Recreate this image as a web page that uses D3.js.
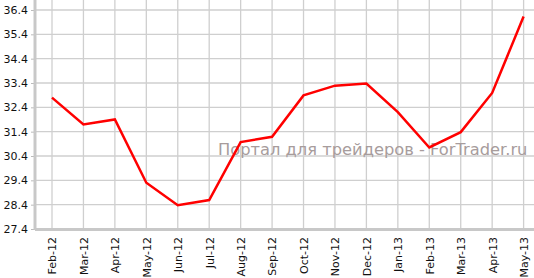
<!DOCTYPE html>
<html>
<head>
<meta charset="utf-8">
<script src="https://cdn.jsdelivr.net/npm/d3@7"></script>
<style>
  body { margin: 0; background: #fff; }
  svg { display: block; }
  text { font-family: "DejaVu Sans", Verdana, sans-serif; }
</style>
</head>
<body>
<div id="chart"></div>
<script>
var months = ["Feb-12","Mar-12","Apr-12","May-12","Jun-12","Jul-12","Aug-12","Sep-12",
              "Oct-12","Nov-12","Dec-12","Jan-13","Feb-13","Mar-13","Apr-13","May-13"];
var values = [32.8, 31.7, 31.9, 29.3, 28.38, 28.59, 30.97, 31.19,
              32.89, 33.29, 33.38, 32.2, 30.75, 31.38, 32.99, 36.13];
var yTicks = [27.4, 28.4, 29.4, 30.4, 31.4, 32.4, 33.4, 34.4, 35.4, 36.4];
var watermark = "Портал для трейдеров - ForTrader.ru";

var width = 534, height = 278;
var left = 35, bottom = 229;

var svg = d3.select("#chart").append("svg")
    .attr("width", width)
    .attr("height", height);

var x = d3.scalePoint().domain(months).range([52, 523.6]);
var y = d3.scaleLinear().domain([27.4, 36.4]).range([bottom, 10]);

// grid
svg.append("g").selectAll("line")
    .data(months)
    .enter().append("line")
    .attr("x1", function(d) { return x(d); })
    .attr("x2", function(d) { return x(d); })
    .attr("y1", 0)
    .attr("y2", bottom)
    .attr("stroke", "#cfcfcf")
    .attr("stroke-width", 1.3);

svg.append("g").selectAll("line")
    .data(yTicks)
    .enter().append("line")
    .attr("x1", left)
    .attr("x2", width)
    .attr("y1", function(d) { return y(d); })
    .attr("y2", function(d) { return y(d); })
    .attr("stroke", "#cfcfcf")
    .attr("stroke-width", 1.3);

// y axis
var yAxis = svg.append("g")
    .attr("transform", "translate(" + left + ",0)")
    .call(d3.axisLeft(y).tickValues(yTicks).tickFormat(d3.format(".1f")).tickSize(4).tickPadding(3));
yAxis.select(".domain").remove();
yAxis.selectAll(".tick line").attr("stroke", "#bbb");
yAxis.selectAll("text").attr("fill", "#111").style("font-size", "11px");

// x axis
var xAxis = svg.append("g")
    .attr("transform", "translate(0," + bottom + ")")
    .call(d3.axisBottom(x).tickSize(0));
xAxis.select(".domain").remove();
xAxis.selectAll("text")
    .attr("fill", "#111")
    .style("font-size", "11px")
    .attr("text-anchor", "end")
    .attr("transform", "rotate(-90)")
    .attr("x", -8)
    .attr("y", 0)
    .attr("dy", "0.35em");

// axis lines
svg.append("line")
    .attr("x1", left).attr("x2", left)
    .attr("y1", 0).attr("y2", bottom + 1)
    .attr("stroke", "#c8c8c8").attr("stroke-width", 3);
svg.append("line")
    .attr("x1", left).attr("x2", width)
    .attr("y1", bottom + 0.5).attr("y2", bottom + 0.5)
    .attr("stroke", "#c8c8c8").attr("stroke-width", 3);

// watermark
svg.append("text")
    .attr("x", 218)
    .attr("y", 154.5)
    .attr("fill", "#a79c9c")
    .style("font-size", "16.3px")
    .text(watermark);

// line
var line = d3.line()
    .x(function(d, i) { return x(months[i]); })
    .y(function(d) { return y(d); });

svg.append("path")
    .datum(values)
    .attr("d", line)
    .attr("fill", "none")
    .attr("stroke", "#ff0000")
    .attr("stroke-width", 2.5)
    .attr("stroke-linejoin", "miter");
</script>
</body>
</html>
